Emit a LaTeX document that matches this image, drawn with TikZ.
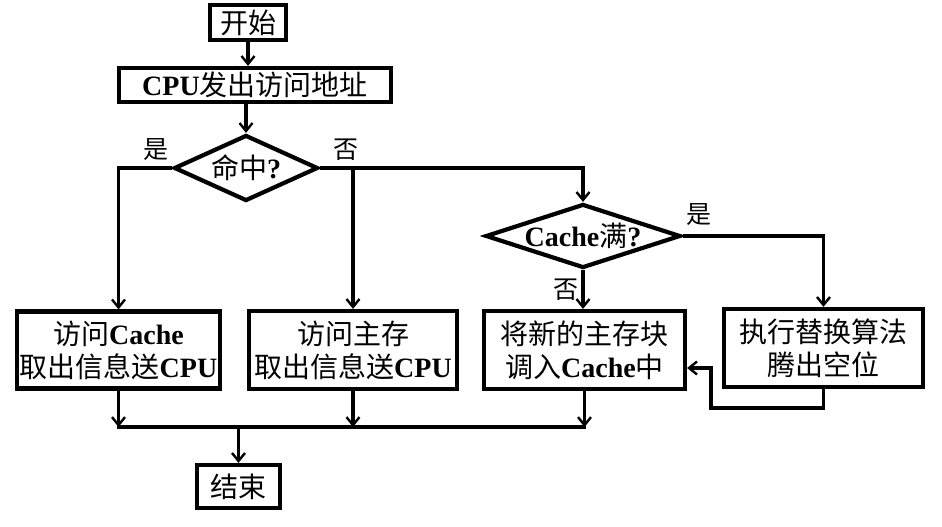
\documentclass[tikz,border=0pt]{standalone}
\usepackage{fontspec}
\setmainfont{Liberation Serif}
\newfontfamily\cjk{Noto Sans CJK SC}
\usetikzlibrary{arrows.meta,shapes.geometric}
\newcommand\zh[1]{{\cjk #1}}
\newcommand\en[1]{\textbf{#1}}
\begin{document}
\begin{tikzpicture}[x=1pt,y=-1pt,
 box/.style={draw,line width=4.2pt,inner sep=0pt,align=center,font=\fontsize{28}{33}\selectfont},
 dia/.style={draw,diamond,line width=4.2pt,inner sep=0pt,font=\fontsize{28}{33}\selectfont},
 arr/.style={line width=3.4pt,-{Straight Barb[length=8pt,width=13pt,line width=2.4pt]}},
 ln/.style={line width=3.4pt,line cap=rect},
 lab/.style={font=\fontsize{25}{30}\selectfont\cjk,inner sep=0pt}]
\useasboundingbox (0,0) rectangle (942,527);
\node[box,minimum width=76pt,minimum height=35pt] (start) at (248,22.5) {\zh{开始}};
\node[box,minimum width=272pt,minimum height=34pt] (cpu) at (255,85) {\en{CPU}\zh{发出访问地址}};
\node[dia,minimum width=144pt,minimum height=66pt] (hit) at (246,168) {\makebox[0pt][c]{\zh{命中}\en{?}}};
\node[dia,minimum width=195pt,minimum height=64pt] (cache) at (583,236) {\makebox[0pt][c]{\en{Cache}\zh{满}\en{?}}};
\node[box,minimum width=203pt,minimum height=77pt] (box1) at (118.5,350) {\zh{访问}\en{Cache}\\\zh{取出信息送}\en{CPU}};
\node[box,minimum width=208pt,minimum height=78pt] (box2) at (353,350) {\zh{访问主存}\\\zh{取出信息送}\en{CPU}};
\node[box,minimum width=201pt,minimum height=78pt] (box3) at (584.5,350) {\zh{将新的主存块}\\\zh{调入}\en{Cache}\zh{中}};
\node[box,minimum width=199pt,minimum height=78pt] (box4) at (823.5,348) {\zh{执行替换算法}\\\zh{腾出空位}};
\node[box,minimum width=83pt,minimum height=43pt] (end) at (238.5,486.5) {\zh{结束}};
\node[lab] (yes1) at (156,150) {是};
\node[lab] (no1) at (346,150) {否};
\node[lab] (yes2) at (699,215) {是};
\node[lab] (no2) at (566,290) {否};
\draw[arr] (start.south) -- (start.south |- cpu.north);
\draw[arr] (hit.north |- cpu.south) -- (hit.north);
\draw[arr] (hit.west) -| (box1.north);
\draw[arr] (hit.east) -| (cache.north);
\coordinate (j2) at (hit.east -| box2.north);
\draw[arr] (j2) -- (box2.north);
\draw[arr] (cache.east) -| (box4.north);
\draw[arr] (cache.south) -- (cache.south |- box3.north);
\coordinate (fb) at (711,408);
\draw[arr] (box4.south) |- (fb) |- ([yshift=-18pt]box3.east);
\coordinate (busL) at (118.5,427);
\coordinate (busR) at (box3.south |- busL);
\draw[arr] (box1.south) -- (box1.south |- busL);
\draw[arr] (box2.south) -- (box2.south |- busL);
\draw[arr] (box3.south) -- (busR);
\draw[ln] (busL) -- (busR);
\draw[arr] (end.north |- busL) -- (end.north);
\end{tikzpicture}
\end{document}
